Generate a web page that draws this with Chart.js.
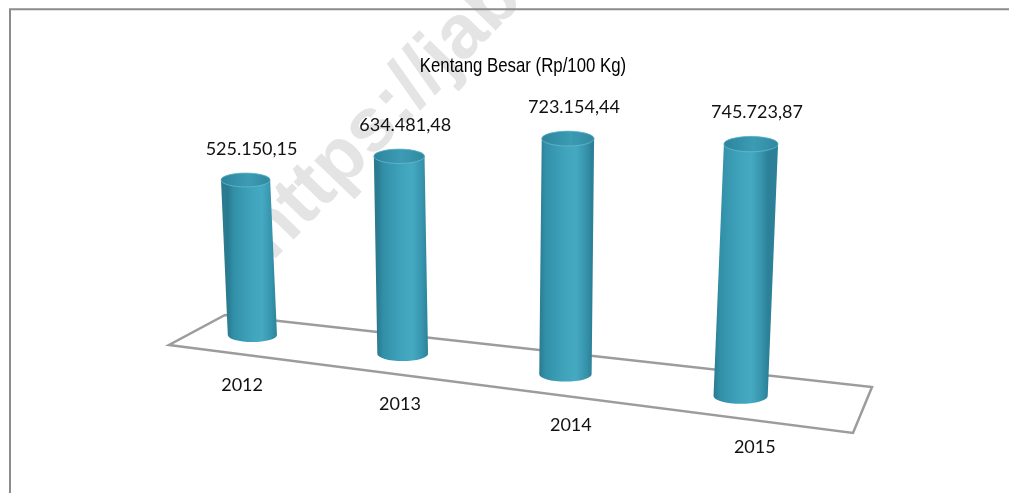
<!DOCTYPE html>
<html><head><meta charset="utf-8">
<script src="https://cdn.jsdelivr.net/npm/chart.js@4.4.1/dist/chart.umd.min.js"></script>
<style>html,body{margin:0;padding:0;background:#fff;overflow:hidden}canvas{display:block}</style>
</head><body>
<canvas id="c" width="1009" height="493"></canvas>
<script>
// ---- data ----
const categories = ['2012', '2013', '2014', '2015'];
const values = [525150.15, 634481.48, 723154.44, 745723.87];
const chartTitle = 'Kentang Besar (Rp/100 Kg)';
const watermarkText = 'https://jabar.bps.go.id';
const yMin = 60000;
const yMax = 700000;

function fmtID(v) {
  const parts = v.toFixed(2).split('.');
  return parts[0].replace(/\B(?=(\d{3})+(?!\d))/g, '.') + ',' + parts[1];
}

// ---- perspective look (styling only) ----
const TILT = 0.125, WARP = 14, GROW = 0.00021, RY = 7, VP_D = 5750;
const LABEL_FONT = '18px Lato, "Open Sans", sans-serif';

function cylGeom(chart) {
  const els = chart.getDatasetMeta(0).data;
  const ca = chart.chartArea;
  const x0 = els[0].x, L = els[els.length - 1].x - x0;
  const vpX = (ca.left + ca.right) / 2 + 8;
  return els.map(el => {
    const d = el.x - x0;
    const xb = el.x - WARP * 4 * d * (L - d) / (L * L);
    const s = 1 + (xb - x0) * GROW;
    const yb = el.base + (xb - x0) * TILT;
    const h = (el.base - el.y) * s;
    const yt = yb - h;
    const xt = xb + (xb - vpX) * h / VP_D;
    return { xb, yb, xt, yt, w: el.width * s, ry: RY * s, x0, L };
  });
}

function drawCyl(ctx, g) {
  const hw = g.w / 2;
  const grad = ctx.createLinearGradient(g.xb - hw, 0, g.xb + hw, 0);
  grad.addColorStop(0, '#2a7a90');
  grad.addColorStop(0.12, '#3190a8');
  grad.addColorStop(0.5, '#41a4bd');
  grad.addColorStop(0.7, '#45a9c2');
  grad.addColorStop(0.9, '#3592aa');
  grad.addColorStop(1, '#2c8198');
  ctx.beginPath();
  ctx.moveTo(g.xt - hw, g.yt);
  ctx.lineTo(g.xb - hw, g.yb);
  ctx.ellipse(g.xb, g.yb, hw, g.ry, 0, Math.PI, 0, true);
  ctx.lineTo(g.xt + hw, g.yt);
  ctx.ellipse(g.xt, g.yt, hw, g.ry, 0, 0, Math.PI, true);
  ctx.closePath();
  ctx.fillStyle = grad;
  ctx.fill();
  const tg = ctx.createLinearGradient(g.xt - hw, 0, g.xt + hw, 0);
  tg.addColorStop(0, '#2c849c');
  tg.addColorStop(0.55, '#3c9cb4');
  tg.addColorStop(1, '#3089a0');
  ctx.beginPath();
  ctx.ellipse(g.xt, g.yt, hw, g.ry, 0, 0, Math.PI * 2);
  ctx.fillStyle = tg;
  ctx.fill();
  ctx.lineWidth = 1;
  ctx.strokeStyle = 'rgba(110,190,210,0.7)';
  ctx.stroke();
}

const perspPlugin = {
  id: 'persp',
  beforeDraw(chart) {
    const ctx = chart.ctx;
    ctx.save();
    // watermark
    ctx.translate(272, 262);
    ctx.rotate(-46 * Math.PI / 180);
    ctx.font = 'bold 76px "Liberation Sans", Arial, sans-serif';
    ctx.fillStyle = '#e4e4e4';
    ctx.textBaseline = 'alphabetic';
    ctx.fillText(watermarkText, 0, 0);
    ctx.restore();
    // frame
    ctx.save();
    ctx.strokeStyle = '#8c8c8c';
    ctx.lineWidth = 2;
    ctx.beginPath();
    ctx.moveTo(10, chart.height);
    ctx.lineTo(10, 9.3);
    ctx.lineTo(chart.width, 9.3);
    ctx.stroke();
    ctx.restore();
    // title (narrow sans)
    ctx.save();
    ctx.translate(chart.width / 2 + 18.5, 72);
    ctx.scale(0.8, 1);
    ctx.font = '21px "Liberation Sans", Arial, sans-serif';
    ctx.fillStyle = '#000';
    ctx.textAlign = 'center';
    ctx.textBaseline = 'alphabetic';
    ctx.fillText(chartTitle, 0, 0);
    ctx.restore();
  },
  beforeDatasetsDraw(chart) {
    const ctx = chart.ctx, ca = chart.chartArea;
    ctx.save();
    ctx.strokeStyle = '#9c9c9c';
    ctx.lineWidth = 2.5;
    ctx.lineJoin = 'miter';
    ctx.beginPath();
    ctx.moveTo(ca.left + 54, ca.bottom - 20);
    ctx.lineTo(ca.right + 50, ca.bottom + 52);
    ctx.lineTo(ca.right + 31, ca.bottom + 98);
    ctx.lineTo(ca.left - 2, ca.bottom + 10);
    ctx.closePath();
    ctx.stroke();
    ctx.restore();
  },
  afterDatasetsDraw(chart) {
    const ctx = chart.ctx;
    const geo = cylGeom(chart);
    ctx.save();
    geo.forEach(g => drawCyl(ctx, g));
    ctx.fillStyle = '#111';
    ctx.font = LABEL_FONT;
    ctx.textAlign = 'center';
    ctx.textBaseline = 'middle';
    const labels = chart.data.labels;
    const data = chart.data.datasets[0].data;
    geo.forEach((g, i) => {
      ctx.fillText(fmtID(data[i]), g.xt + 6, g.yt - g.ry - 24);
      const lx = g.xb + (g.xb - (g.x0 + g.L * 0.42)) * 0.05;
      ctx.fillText(labels[i], lx, g.yb + g.ry + 43.5);
    });
    ctx.restore();
  }
};

new Chart(document.getElementById('c'), {
  type: 'bar',
  data: {
    labels: categories,
    datasets: [{
      data: values,
      base: yMin,
      backgroundColor: 'rgba(0,0,0,0)',
      borderWidth: 0,
      categoryPercentage: 1,
      barPercentage: 0.302
    }]
  },
  options: {
    responsive: false,
    devicePixelRatio: 1,
    animation: false,
    layout: { padding: { top: 121.7, bottom: 158, left: 171, right: 187 } },
    scales: {
      x: { display: false },
      y: { display: false, min: yMin, max: yMax }
    },
    plugins: {
      legend: { display: false },
      tooltip: { enabled: false },
      title: { display: false }
    }
  },
  plugins: [perspPlugin]
});
</script>
</body></html>
